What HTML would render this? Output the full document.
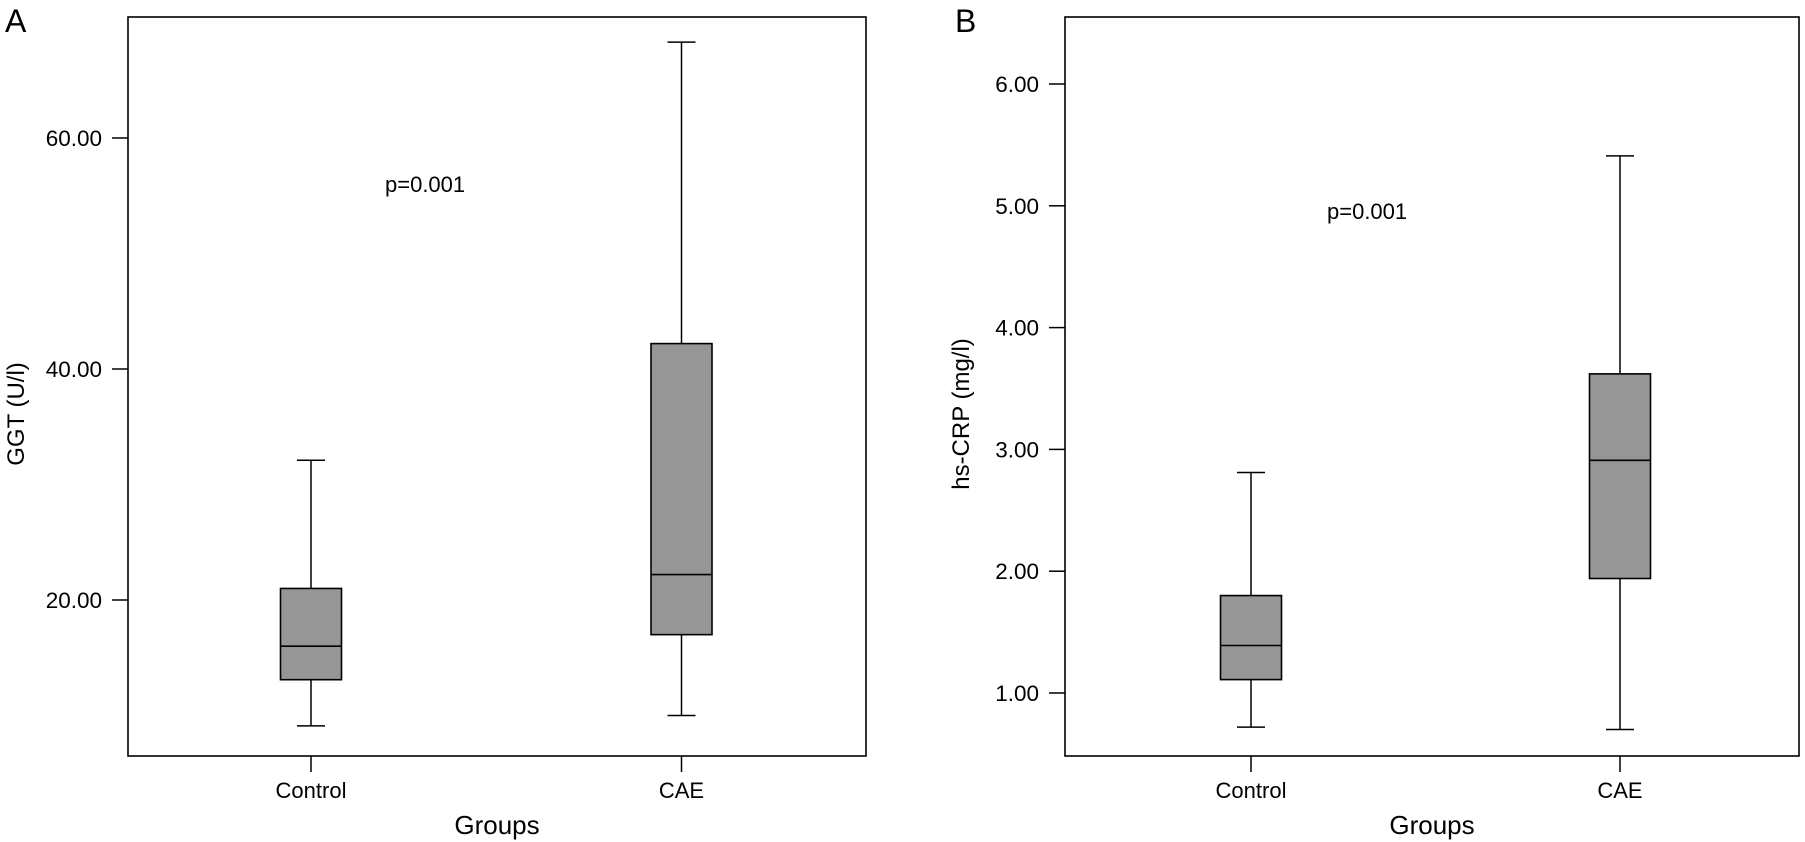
<!DOCTYPE html>
<html><head><meta charset="utf-8"><style>
html,body{margin:0;padding:0;background:#fff}
svg{display:block;font-family:"Liberation Sans",Arial,sans-serif}
</style></head><body>
<svg id="chart" width="1805" height="842" viewBox="0 0 1805 842" xmlns="http://www.w3.org/2000/svg"></svg>
<script>
const categories = ["Control", "CAE"];
const ggtMin = [9.1, 10.0];
const ggtQ1 = [13.1, 17.0];
const ggtMedian = [16.0, 22.2];
const ggtQ3 = [21.0, 42.2];
const ggtMax = [32.1, 68.3];
const ggtTicks = [20, 40, 60];
const crpMin = [0.72, 0.70];
const crpQ1 = [1.11, 1.94];
const crpMedian = [1.39, 2.91];
const crpQ3 = [1.80, 3.62];
const crpMax = [2.81, 5.41];
const crpTicks = [1, 2, 3, 4, 5, 6];

const NS = "http://www.w3.org/2000/svg";
const svg = document.getElementById("chart");
function mk(tag, attrs, parent, text) {
  const e = document.createElementNS(NS, tag);
  for (const k in attrs) e.setAttribute(k, attrs[k]);
  if (text !== undefined) e.textContent = text;
  (parent || svg).appendChild(e);
  return e;
}

function panel(cfg) {
  const g = mk("g", {});
  
  
  const y = v => cfg.y0 - (v - cfg.v0) * cfg.k;
  const L = cfg.left, R = cfg.right, T = 17, B = 756;
  const frame = mk("rect", {x: L, y: T, width: R - L, height: B - T, fill: "none", stroke: "#000", "stroke-width": 1.6}, g);
  
  
  const letter = mk("text", {x: cfg.letterX, y: 32, "font-size": 32}, g, cfg.letter);
  
  
  cfg.ticks.forEach(t => {
    const ty = y(t);
    const tl = mk("line", {x1: L - 16, x2: L, y1: ty, y2: ty, stroke: "#000", "stroke-width": 1.5}, g);
    
    
    const tx = mk("text", {x: L - 26, y: ty + 8, "font-size": 22.5, "text-anchor": "end"}, g, t.toFixed(2));
    
    
  });
  const yt = mk("text", {transform: `translate(${cfg.ylabX},${cfg.ylabY}) rotate(-90)`, "font-size": 24, "text-anchor": "middle"}, g, cfg.ylabel);
  
  
  categories.forEach((c, i) => {
    const cx = cfg.xs[i], hw = 30.5, cw = 14;
    const xt = mk("line", {x1: cx, x2: cx, y1: B, y2: B + 16, stroke: "#000", "stroke-width": 1.5}, g);
    
    
    const xl = mk("text", {x: cx, y: 798, "font-size": 22, "text-anchor": "middle"}, g, c);
    
    
    const bg = mk("g", {}, g);
    
    
    const w1 = mk("line", {x1: cx, x2: cx, y1: y(cfg.max[i]), y2: y(cfg.q3[i]), stroke: "#000", "stroke-width": 1.5}, bg);
    
    
    const w2 = mk("line", {x1: cx, x2: cx, y1: y(cfg.q1[i]), y2: y(cfg.min[i]), stroke: "#000", "stroke-width": 1.5}, bg);
    
    
    const c1 = mk("line", {x1: cx - cw, x2: cx + cw, y1: y(cfg.max[i]), y2: y(cfg.max[i]), stroke: "#000", "stroke-width": 1.5}, bg);
    
    
    const c2 = mk("line", {x1: cx - cw, x2: cx + cw, y1: y(cfg.min[i]), y2: y(cfg.min[i]), stroke: "#000", "stroke-width": 1.5}, bg);
    
    
    const r = mk("rect", {x: cx - hw, y: y(cfg.q3[i]), width: 2 * hw, height: y(cfg.q1[i]) - y(cfg.q3[i]), fill: "#969696", stroke: "#000", "stroke-width": 1.6}, bg);
    
    
    const m = mk("line", {x1: cx - hw, x2: cx + hw, y1: y(cfg.med[i]), y2: y(cfg.med[i]), stroke: "#000", "stroke-width": 1.6}, bg);
    
    
  });
  const xt2 = mk("text", {x: (L + R) / 2, y: 834, "font-size": 26, "text-anchor": "middle"}, g, "Groups");
  
  
  const p = mk("text", {x: cfg.pX, y: cfg.pY, "font-size": 22}, g, "p=0.001");
  
  
}

panel({name: "panel-a-ggt", letter: "A", letterX: 5, left: 128, right: 866, y0: 600, v0: 20, k: 11.55,
  ticks: ggtTicks, ylabel: "GGT (U/l)", ylabX: 24, ylabY: 414, xs: [311, 681.5],
  min: ggtMin, q1: ggtQ1, med: ggtMedian, q3: ggtQ3, max: ggtMax, pX: 385, pY: 192});
panel({name: "panel-b-hscrp", letter: "B", letterX: 955, left: 1065, right: 1799, y0: 693, v0: 1, k: 121.8,
  ticks: crpTicks, ylabel: "hs-CRP (mg/l)", ylabX: 969, ylabY: 414, xs: [1251, 1620],
  min: crpMin, q1: crpQ1, med: crpMedian, q3: crpQ3, max: crpMax, pX: 1327, pY: 219});
</script>
</body></html>
